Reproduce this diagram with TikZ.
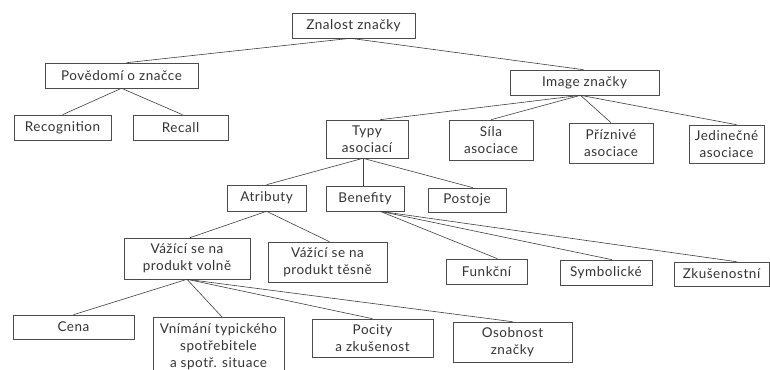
\documentclass[tikz,border=0pt]{standalone}
\usepackage{fontspec}
\setmainfont[LetterSpace=4]{Lato}
\begin{document}
\begin{tikzpicture}[x=1pt,y=-1pt,
  bx/.style={draw=black!70, line width=0.6pt, rectangle, inner sep=0pt, align=center,
    text=black!80, font=\fontsize{13.5}{17}\selectfont},
  ln/.style={draw=black!75, line width=0.6pt}]
\clip (0,0) rectangle (770,369);
\fill[white] (0,0) rectangle (770,369);
% nodes
\node[bx, minimum width=123, minimum height=25] (zn) at (353.5,25.5) {Znalost značky};
\node[bx, minimum width=153, minimum height=25] (pov) at (121.5,75.5) {Povědomí o značce};
\node[bx, minimum width=97, minimum height=25] (rec) at (62.5,127.5) {Recognition};
\node[bx, minimum width=95, minimum height=25] (recall) at (180.5,127.5) {Recall};
\node[bx, minimum width=149, minimum height=25] (img) at (584.5,82.5) {Image značky};
\node[bx, minimum width=82, minimum height=38] (typy) at (367,139) {Typy\\asociací};
\node[bx, minimum width=84, minimum height=40] (sila) at (491,140) {Síla\\asociace};
\node[bx, minimum width=84, minimum height=40] (priz) at (611,143) {Příznivé\\asociace};
\node[bx, minimum width=75, minimum height=38] (jed) at (726.5,144) {Jedinečné\\asociace};
\node[bx, minimum width=79, minimum height=26] (atr) at (266.5,198) {Atributy};
\node[bx, minimum width=78, minimum height=25] (ben) at (365,198.5) {Benefity};
\node[bx, minimum width=78, minimum height=24] (post) at (467,200) {Postoje};
\node[bx, minimum width=126, minimum height=41] (volne) at (187,258.5) {Vážící se na\\produkt volně};
\node[bx, minimum width=119, minimum height=40] (tesne) at (327.5,262) {Vážící se na\\produkt těsně};
\node[bx, minimum width=81, minimum height=25] (funk) at (486.5,271.5) {Funkční};
\node[bx, minimum width=92, minimum height=25] (sym) at (606,272.5) {Symbolické};
\node[bx, minimum width=95, minimum height=24] (zku) at (721.5,274) {Zkušenostní};
\node[bx, minimum width=121, minimum height=24] (cena) at (73.5,327) {Cena};
\node[bx, minimum width=131, minimum height=58, anchor=north] (vnim) at (218.5,317) {Vnímání typického\\spotřebitele\\a spotř. situace};
\node[bx, minimum width=121, minimum height=38] (poc) at (372.5,338) {Pocity\\a zkušenost};
\node[bx, minimum width=119, minimum height=40] (osob) at (512.5,342) {Osobnost\\značky};
% connectors
\draw[ln] ([xshift=-3]zn.south) -- ([xshift=5]pov.north);
\draw[ln] ([xshift=-3]zn.south) -- ([xshift=-1]img.north);
\draw[ln] (pov.south) -- (rec.north);
\draw[ln] (pov.south) -- ([xshift=2]recall.north);
\draw[ln] ([xshift=-4]img.south) -- ([xshift=13]typy.north);
\draw[ln] ([xshift=-4]img.south) -- (sila.north);
\draw[ln] ([xshift=-4]img.south) -- (priz.north);
\draw[ln] ([xshift=-4]img.south) -- ([xshift=10]jed.north);
\draw[ln] ([xshift=-4]typy.south) -- (atr.north);
\draw[ln] ([xshift=-4]typy.south) -- ([xshift=-4]typy.south |- ben.north);
\draw[ln] ([xshift=-4]typy.south) -- ([xshift=6]post.north);
\draw[ln] ([xshift=15]ben.south) -- ([xshift=11]funk.north);
\draw[ln] ([xshift=15]ben.south) -- ([xshift=6]sym.north);
\draw[ln] ([xshift=15]ben.south) -- ([xshift=15]zku.north);
\draw[ln] (atr.south) -- ([xshift=3]volne.north);
\draw[ln] (atr.south) -- ([xshift=2]tesne.north);
\draw[ln] (volne.south) -- (cena.north);
\draw[ln] (volne.south) -- ([xshift=3.5]vnim.north);
\draw[ln] (volne.south) -- (poc.north);
\draw[ln] (volne.south) -- (osob.north);
\end{tikzpicture}
\end{document}
